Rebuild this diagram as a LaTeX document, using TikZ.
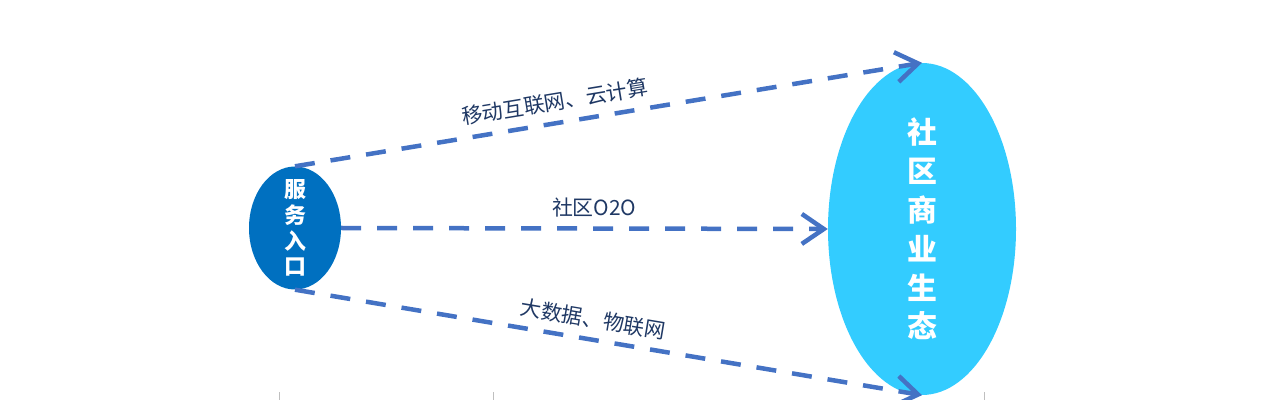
\documentclass[tikz,border=0pt]{standalone}
\usepackage{fontspec}
\newfontfamily\cjk{Noto Sans CJK SC}
\usetikzlibrary{shapes.geometric,arrows.meta}
\definecolor{entrycol}{HTML}{0070C0}
\definecolor{ecocol}{HTML}{33CCFF}
\definecolor{linkcol}{HTML}{4472C4}
\definecolor{labelcol}{HTML}{1F3864}
\definecolor{tickcol}{HTML}{BFBFBF}
\begin{document}
\begin{tikzpicture}[
  link/.style={draw=linkcol,line width=4.5bp,dash pattern=on 20bp off 16bp,-{Straight Barb[length=22bp,width=30bp]}},
  linklabel/.style={font=\cjk\fontsize{21}{24}\selectfont,text=labelcol,sloped,above=6bp},
  inside/.style={text=white,align=center,inner sep=0pt},
  tick/.style={draw=tickcol,line width=1bp}]
  \useasboundingbox (0bp,0bp) rectangle (1278bp,400bp);
  \node (Entry) at (295bp,172bp) [ellipse,fill=entrycol,minimum width=92bp,minimum height=123bp,inner sep=0pt] {};
  \node (Eco) at (922bp,171bp) [ellipse,fill=ecocol,minimum width=188bp,minimum height=332bp,inner sep=0pt] {};
  \node (EntryText) at (Entry.center) [inside,font=\cjk\bfseries\fontsize{22}{26}\selectfont] {服\\务\\入\\口};
  \node (EcoText) at (Eco.center) [inside,font=\cjk\bfseries\fontsize{30}{39}\selectfont] {社\\区\\商\\业\\生\\态};
  \draw [link] (Entry.north) -- (Eco.north) node [linklabel,pos=0.42] {移动互联网、云计算};
  \draw [link] (Entry.east) -- (Eco.west) node [linklabel,pos=0.52] {社区O2O};
  \draw [link] (Entry.south) -- (Eco.south) node [linklabel,pos=0.47,above=-1bp] {大数据、物联网};
  \foreach \x in {279,493,984}
    \draw [tick] (\x bp,0bp) -- (\x bp,8bp);
\end{tikzpicture}
\end{document}
